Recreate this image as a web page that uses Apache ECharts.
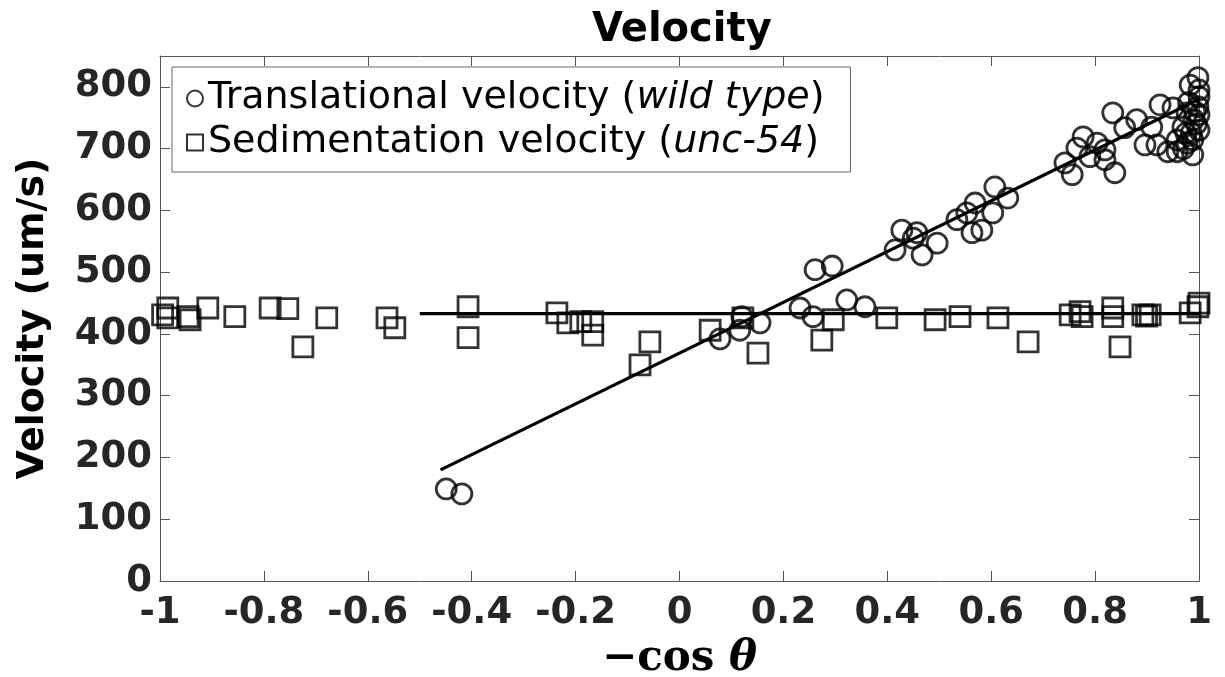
<!DOCTYPE html>
<html>
<head>
<meta charset="utf-8">
<script src="https://cdn.jsdelivr.net/npm/echarts@6/dist/echarts.min.js"></script>
<style>html,body{margin:0;padding:0;background:#fff;}#c{width:1225px;height:677px;}</style>
</head>
<body>
<div id="c"></div>
<script>
// ---- data ----
const xTicks = [-1, -0.8, -0.6, -0.4, -0.2, 0, 0.2, 0.4, 0.6, 0.8, 1];
const yTicks = [0, 100, 200, 300, 400, 500, 600, 700, 800];
const translational = [
  [-0.449,149],[-0.419,141],
  [0.078,392],[0.116,406],[0.12,428],[0.155,418],
  [0.232,442],[0.257,428],[0.322,455],[0.357,444],
  [0.261,504],[0.294,510],
  [0.415,536],[0.428,568],[0.45,555],[0.457,564],[0.467,528],[0.496,547],
  [0.534,585],[0.553,596],[0.563,564],[0.569,612],[0.582,568],[0.603,596],[0.607,638],[0.632,620],
  [0.742,677],[0.756,658],[0.765,701],[0.777,719],[0.79,687],[0.804,709],[0.819,698],[0.819,682],
  [0.834,758],[0.838,661],[0.857,734],[0.88,747],[0.896,706],[0.909,735],[0.925,771],[0.919,706],
  [0.94,695],[0.95,766],[0.958,714],[0.958,695],[0.969,735],[0.977,758],[0.977,709],[0.983,803],
  [0.988,714],[0.988,690],[0.99,747],[0.998,815],[0.998,768],[1.0,784],[1.0,795],[1.0,730],
  [0.985,725],[0.97,700],[1.0,755],[0.995,740],[0.98,775],[0.992,760],[0.975,725]
];
const sedimentation = [
  [-0.985,442],[-0.995,431],[-0.985,426],[-0.946,428],[-0.942,423],[-0.908,442],[-0.856,428],
  [-0.788,442],[-0.754,441],[-0.725,379],[-0.679,426],[-0.563,426],[-0.548,410],[-0.407,444],[-0.407,394],
  [-0.236,434],[-0.215,418],[-0.19,420],[-0.167,420],[-0.167,398],[-0.076,350],[-0.057,387],
  [0.059,406],[0.122,426],[0.151,369],
  [0.274,390],[0.296,423],[0.399,426],[0.492,423],[0.54,428],[0.613,426],[0.671,387],
  [0.752,431],[0.771,436],[0.775,428],[0.834,442],[0.834,428],[0.848,379],[0.892,431],[0.899,429],
  [0.906,431],[0.983,434],[0.998,444],[1.0,450]
];
const fitTranslational = [[-0.46,180],[1.0,780]];
const fitSedimentation = [[-0.5,433],[1.0,433]];
const seriesNames = ['Translational velocity (wild type)', 'Sedimentation velocity (unc-54)'];

// ---- chart ----
const chart = echarts.init(document.getElementById('c'), null, {renderer:'canvas'});
const tickFont = {fontFamily:'DejaVu Sans', fontWeight:'bold', fontSize:37, color:'#262626'};
const axisLineColor = '#555';
const option = {
  backgroundColor:'#fff',
  animation:false,
  title:{
    text:'Velocity', left:587, top:6,
    textStyle:{fontFamily:'DejaVu Sans', fontWeight:'bold', fontSize:40, color:'#000'}
  },
  grid:{left:160, right:26, top:56, bottom:96, containLabel:false, outerBoundsMode:'none'},
  legend:{
    orient:'vertical', left:172, top:67,
    padding:[10,26,8,14], itemGap:1,
    borderColor:'#666', borderWidth:1, backgroundColor:'#fff',
    itemWidth:16, itemHeight:16,
    textStyle:{fontFamily:'DejaVu Sans', fontSize:38, color:'#000', lineHeight:43,
      rich:{i:{fontFamily:'DejaVu Sans', fontSize:38, fontStyle:'italic', color:'#000', lineHeight:43},
            n:{fontFamily:'DejaVu Sans', fontSize:38, color:'#000', lineHeight:43}}},
    formatter:function(name){
      const m = name.match(/^(.*\()(.*)(\))$/);
      return '{n|' + m[1] + '}{i|' + m[2] + '}{n|' + m[3] + '}';
    },
    data:[
      {name:seriesNames[0], icon:'circle', itemStyle:{color:'#fff', borderColor:'#000', borderWidth:2}},
      {name:seriesNames[1], icon:'rect', itemStyle:{color:'#fff', borderColor:'#000', borderWidth:2}}
    ]
  },
  xAxis:[{
    type:'value', min:-1, max:1, interval:0.2,
    name:'{m|−cos }{t|θ}', nameLocation:'middle', nameGap:57,
    nameTextStyle:{rich:{
      m:{fontFamily:'DejaVu Serif', fontWeight:'bold', fontSize:42, color:'#000'},
      t:{fontFamily:'DejaVu Serif', fontWeight:'bold', fontStyle:'italic', fontSize:42, color:'#000'}}},
    axisLine:{show:true, onZero:false, lineStyle:{color:axisLineColor, width:1}},
    axisTick:{show:true, inside:true, length:10, lineStyle:{color:axisLineColor}},
    axisLabel:Object.assign({margin:14, formatter:v=>String(Math.round(v*10)/10)}, tickFont),
    splitLine:{show:false}
  },{
    type:'value', min:-1, max:1, interval:0.2, position:'top',
    axisLine:{show:true, onZero:false, lineStyle:{color:axisLineColor, width:1}},
    axisTick:{show:true, inside:true, length:10, lineStyle:{color:axisLineColor}},
    axisLabel:{show:false}, splitLine:{show:false}
  }],
  yAxis:[{
    type:'value', min:0, max:850, interval:100,
    name:'Velocity (um/s)', nameLocation:'middle', nameGap:108, nameRotate:90,
    nameTextStyle:{fontFamily:'DejaVu Sans', fontWeight:'bold', fontSize:38, color:'#000'},
    axisLine:{show:true, onZero:false, lineStyle:{color:axisLineColor, width:1}},
    axisTick:{show:true, inside:true, length:10, lineStyle:{color:axisLineColor}},
    axisLabel:Object.assign({margin:8, showMaxLabel:false,
      formatter:v=>yTicks.indexOf(v)>=0?String(v):''}, tickFont),
    splitLine:{show:false}
  },{
    type:'value', min:0, max:850, interval:100, position:'right',
    axisLine:{show:true, onZero:false, lineStyle:{color:axisLineColor, width:1}},
    axisTick:{show:true, inside:true, length:10, lineStyle:{color:axisLineColor}},
    axisLabel:{show:false}, splitLine:{show:false}
  }],
  series:[
    {name:seriesNames[0], type:'scatter', data:translational, symbol:'circle', symbolSize:20, clip:false,
      itemStyle:{color:'rgba(0,0,0,0)', borderColor:'#000', borderWidth:2.8}, z:3},
    {name:seriesNames[1], type:'scatter', data:sedimentation, symbol:'rect', symbolSize:20, clip:false,
      itemStyle:{color:'rgba(0,0,0,0)', borderColor:'#000', borderWidth:2.8}, z:3},
    {type:'line', data:fitTranslational, symbol:'none', lineStyle:{color:'#000', width:3.2}, z:2, silent:true},
    {type:'line', data:fitSedimentation, symbol:'none', lineStyle:{color:'#000', width:3.2}, z:2, silent:true}
  ]
};
chart.setOption(option);
</script>
</body>
</html>
